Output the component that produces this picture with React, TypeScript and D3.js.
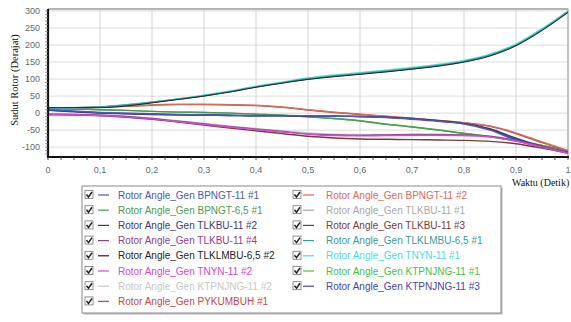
import React from "react";
import * as d3 from "d3";

const times = d3.range(0, 21).map((i) => i * 0.05);

const seriesNames = [
  "Rotor Angle_Gen BPNGT-11 #1",
  "Rotor Angle_Gen BPNGT-6,5 #1",
  "Rotor Angle_Gen TLKBU-11 #2",
  "Rotor Angle_Gen TLKBU-11 #4",
  "Rotor Angle_Gen TLKLMBU-6,5 #2",
  "Rotor Angle_Gen TNYN-11 #2",
  "Rotor Angle_Gen KTPNJNG-11 #2",
  "Rotor Angle_Gen PYKUMBUH #1",
  "Rotor Angle_Gen BPNGT-11 #2",
  "Rotor Angle_Gen TLKBU-11 #1",
  "Rotor Angle_Gen TLKBU-11 #3",
  "Rotor Angle_Gen TLKLMBU-6,5 #1",
  "Rotor Angle_Gen TNYN-11 #1",
  "Rotor Angle_Gen KTPNJNG-11 #1",
  "Rotor Angle_Gen KTPNJNG-11 #3",
];

const seriesColors = [
  "#4a58b8", "#4e9a4e", "#3a3a72", "#8e3e8e", "#222222",
  "#d448d4", "#c8c8c8", "#c04848", "#d86a5a", "#a8a8a8",
  "#7a3a3a", "#3a9a98", "#48e0e8", "#44c444", "#4444aa",
];

// values at t = 0, 0.05, ..., 1.0
const bpngt11_1 = [10, 6, 2, 0, -2, -4, -5, -6, -7, -7, -8, -9, -10, -13, -18, -24, -32, -50, -80, -100, -115];
const bpngt65_1 = [14, 12, 10, 8, 5, 3, 2, 0, -3, -6, -11, -16, -23, -33, -41, -50, -60, -70, -82, -95, -110];
const tlkbu11_2 = [8, 4, 0, -2, -4, -5, -6, -7, -8, -8, -9, -9, -10, -12, -16, -22, -30, -46, -74, -98, -116];
const tlkbu11_4 = [-3, -4, -6, -10, -16, -24, -32, -40, -47, -54, -61, -64, -65, -64, -63, -63, -64, -68, -80, -98, -117];
const tlklmbu65_2 = [16, 16, 16, 21, 30, 40, 50, 62, 76, 88, 99, 107, 114, 121, 129, 138, 150, 168, 198, 243, 296];
const tnyn11_2 = [-4, -5, -7, -11, -17, -25, -33, -41, -48, -55, -62, -66, -67, -66, -65, -65, -66, -70, -82, -100, -118];
const ktpnjng11_2 = [-2, -3, -5, -9, -15, -22, -30, -38, -45, -52, -58, -62, -64, -64, -64, -64, -66, -70, -82, -100, -116];
const pykumbuh_1 = [12, 14, 17, 20, 23, 25, 25, 24, 22, 17, 9, 2, -4, -10, -16, -22, -29, -39, -60, -87, -111];
const bpngt11_2 = [12, 15, 18, 21, 24, 26, 26, 25, 23, 18, 10, 3, -3, -9, -15, -21, -28, -38, -58, -85, -110];
const tlkbu11_1 = [15, 16, 18, 24, 32, 41, 51, 63, 77, 89, 100, 108, 115, 122, 130, 139, 151, 169, 199, 244, 297];
const tlkbu11_3 = [-5, -6, -8, -12, -18, -26, -35, -44, -52, -60, -68, -73, -76, -77, -78, -79, -80, -83, -90, -103, -118];
const tlklmbu65_1 = [15, 16, 18, 24, 32, 41, 51, 63, 77, 89, 101, 109, 116, 123, 131, 140, 152, 170, 200, 245, 298];
const tnyn11_1 = [14, 15, 18, 25, 33, 42, 53, 65, 79, 91, 103, 112, 119, 126, 134, 143, 155, 173, 203, 248, 300];
const ktpnjng11_1 = [14, 12, 10, 8, 5, 3, 2, 0, -3, -6, -11, -16, -22, -32, -40, -49, -59, -69, -81, -95, -111];
const ktpnjng11_3 = [9, 5, 1, -1, -3, -5, -6, -7, -8, -8, -9, -9, -10, -12, -17, -23, -31, -48, -77, -99, -115];

const seriesValues = [
  bpngt11_1, bpngt65_1, tlkbu11_2, tlkbu11_4, tlklmbu65_2,
  tnyn11_2, ktpnjng11_2, pykumbuh_1, bpngt11_2, tlkbu11_1,
  tlkbu11_3, tlklmbu65_1, tnyn11_1, ktpnjng11_1, ktpnjng11_3,
];

// drawing order (back to front)
const drawOrder = [9, 6, 13, 1, 7, 8, 14, 2, 0, 10, 3, 5, 12, 11, 4];

const xTicks = [0, 0.1, 0.2, 0.3, 0.4, 0.5, 0.6, 0.7, 0.8, 0.9, 1];
const xTickLabels = ["0", "0,1", "0,2", "0,3", "0,4", "0,5", "0,6", "0,7", "0,8", "0,9", "1"];
const yTicks = [-100, -50, 0, 50, 100, 150, 200, 250, 300];

export default function App() {
  const W = 571, H = 322;
  const L = 48, R = 568, T = 9, B = 157;
  const x = d3.scaleLinear().domain([0, 1]).range([L, R]);
  const y = d3.scaleLinear().domain([-129, 306]).range([B, T]);
  const line = d3
    .line<number>()
    .x((_, i) => x(times[i]))
    .y((d) => y(d))
    .curve(d3.curveMonotoneX);

  const xMinor = d3.range(0, 1.0001, 0.025);
  const yMinor = d3.range(-120, 301, 10);

  const legX = 82, legY = 186, legW = 419, legH = 127;
  const rowH = 15.2;
  const row0 = 195;

  return (
    <div style={{ position: "absolute", left: 0, top: 0 }}>
      <svg width={W} height={H} style={{ display: "block" }}>
        <rect x={0} y={0} width={W} height={H} fill="#ffffff" />
        <defs>
          <clipPath id="plotclip">
            <rect x={L} y={T} width={R - L} height={B - T} />
          </clipPath>
        </defs>
        {/* grid */}
        {yTicks.map((t) => (
          <line key={"gy" + t} x1={L} x2={R} y1={y(t)} y2={y(t)} stroke="#dcdcdc" strokeWidth={1} />
        ))}
        {xTicks.slice(1).map((t) => (
          <line key={"gx" + t} x1={x(t)} x2={x(t)} y1={T} y2={B} stroke="#d4d4d4" strokeWidth={1} />
        ))}
        {/* frame */}
        <line x1={L} x2={R} y1={T} y2={T} stroke="#9a9a9a" strokeWidth={1.5} />
        <line x1={R} x2={R} y1={T} y2={B} stroke="#9a9a9a" strokeWidth={1} />
        {/* series */}
        <g clipPath="url(#plotclip)">
          {drawOrder.map((i) => (
            <path
              key={"s" + i}
              d={line(seriesValues[i]) || ""}
              fill="none"
              stroke={seriesColors[i]}
              strokeWidth={i === 4 ? 1 : 1.4}
            />
          ))}
        </g>
        {/* axes */}
        <line x1={L} x2={L} y1={T} y2={B + 1} stroke="#111" strokeWidth={2.2} />
        <line x1={L - 1} x2={R + 1} y1={B} y2={B} stroke="#111" strokeWidth={2.2} />
        {xMinor.map((t, i) => (
          <line key={"xm" + i} x1={x(t)} x2={x(t)} y1={B} y2={B + 3} stroke="#444" strokeWidth={1} />
        ))}
        {yMinor.map((t, i) => (
          <line key={"ym" + i} x1={L - 3} x2={L} y1={y(t)} y2={y(t)} stroke="#777" strokeWidth={0.8} />
        ))}
        {yTicks.map((t) => (
          <text
            key={"yl" + t}
            x={40}
            y={y(t)}
            dy="0.35em"
            textAnchor="end"
            fontFamily="Liberation Sans, Arial, sans-serif"
            fontSize={9}
            fill="#666"
          >
            {t}
          </text>
        ))}
        {xTicks.map((t, i) => (
          <text
            key={"xl" + t}
            x={x(t)}
            y={173}
            textAnchor="middle"
            fontFamily="Liberation Sans, Arial, sans-serif"
            fontSize={9}
            fill="#666"
          >
            {xTickLabels[i]}
          </text>
        ))}
        <text
          x={512}
          y={186}
          fontFamily="Liberation Serif, Times New Roman, serif"
          fontSize={10}
          fill="#111"
        >
          Waktu (Detik)
        </text>
        <text
          transform="translate(18,80) rotate(-90)"
          textAnchor="middle"
          fontFamily="Liberation Serif, Times New Roman, serif"
          fontSize={10.5}
          fill="#111"
        >
          Sudut Rotor (Derajat)
        </text>
        {/* legend */}
        <rect x={legX + 1.5} y={legY + 1.5} width={legW} height={legH} fill="#bbb" />
        <rect x={legX} y={legY} width={legW} height={legH} fill="#fff" stroke="#8a8a8a" strokeWidth={1} />
        {seriesNames.map((name, i) => {
          const col = i < 8 ? 0 : 1;
          const r = i < 8 ? i : i - 8;
          const cy = row0 + r * rowH;
          const bx = col === 0 ? 85 : 293;
          const lx = col === 0 ? 98 : 303;
          const tx = col === 0 ? 118 : 326;
          return (
            <g key={"lg" + i}>
              <rect x={bx} y={cy - 4.5} width={8} height={8} fill="#fff" stroke="#777" strokeWidth={0.8} />
              <path
                d={`M${bx + 1.5},${cy - 0.5} L${bx + 3.5},${cy + 2} L${bx + 7},${cy - 3}`}
                fill="none"
                stroke="#222"
                strokeWidth={1.5}
              />
              <line x1={lx} x2={lx + 11} y1={cy} y2={cy} stroke={seriesColors[i]} strokeWidth={1.2} />
              <text
                x={tx}
                y={cy}
                dy="0.35em"
                fontFamily="Liberation Sans, Arial, sans-serif"
                fontSize={10}
                fill={seriesColors[i]}
              >
                {name}
              </text>
            </g>
          );
        })}
      </svg>
    </div>
  );
}
